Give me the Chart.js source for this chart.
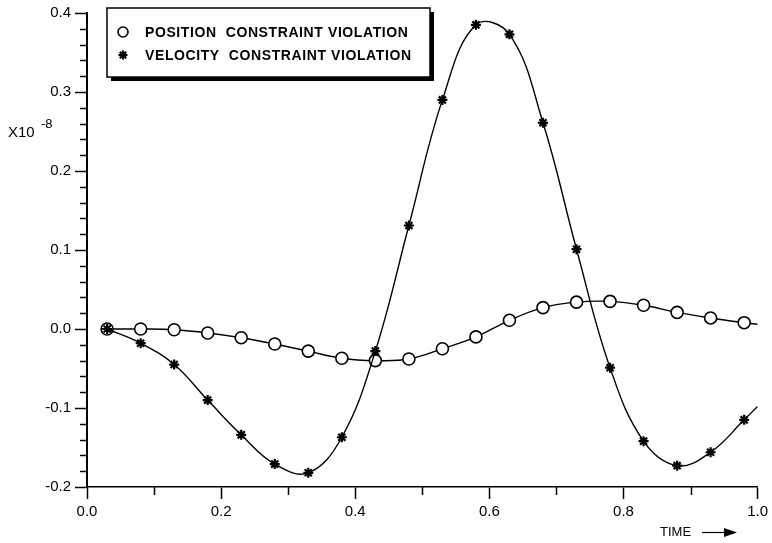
<!DOCTYPE html>
<html>
<head>
<meta charset="utf-8">
<script src="https://cdn.jsdelivr.net/npm/chart.js@4/dist/chart.umd.min.js"></script>
<style>
  html, body { margin: 0; padding: 0; background: #fff; }
  #wrap { width: 772px; height: 543px; }
</style>
</head>
<body>
<div id="wrap"><canvas id="chart" width="772" height="543"></canvas></div>
<script>
// Sample times (markers every 0.05) and the end of the curve
const timeMarks = [0.03, 0.08, 0.13, 0.18, 0.23, 0.28, 0.33, 0.38, 0.43, 0.48,
                   0.53, 0.58, 0.63, 0.68, 0.73, 0.78, 0.83, 0.88, 0.93, 0.98];
const timeEnd = 1.0;

// Values in units of 1e-8
const positionViolation = [0.000, 0.000, -0.001, -0.005, -0.011, -0.019, -0.028, -0.037, -0.040, -0.038,
                           -0.025, -0.010, 0.011, 0.027, 0.034, 0.035, 0.030, 0.021, 0.014, 0.008];
const positionEnd = 0.006;
const velocityViolation = [0.000, -0.018, -0.045, -0.090, -0.134, -0.171, -0.182, -0.137, -0.028, 0.131,
                           0.290, 0.385, 0.373, 0.261, 0.101, -0.049, -0.142, -0.173, -0.156, -0.115];
const velocityEnd = -0.098;

const xTickValues = [0.0, 0.2, 0.4, 0.6, 0.8, 1.0];
const xMinorTicks = [0.1, 0.3, 0.5, 0.7, 0.9];
const yTickValues = [-0.2, -0.1, 0.0, 0.1, 0.2, 0.3, 0.4];
const yMinorTicks = [-0.18, -0.16, -0.14, -0.12, -0.08, -0.06, -0.04, -0.02,
                     0.02, 0.04, 0.06, 0.08, 0.12, 0.14, 0.16, 0.18,
                     0.22, 0.24, 0.26, 0.28, 0.32, 0.34, 0.36, 0.38];

const FONT = '"Liberation Sans", Arial, sans-serif';

// Build {x, y} points, last one is the unmarked curve end
function toPoints(values, endValue) {
    const pts = values.map((v, i) => ({ x: timeMarks[i], y: v }));
    pts.push({ x: timeEnd, y: endValue });
    return pts;
}

function hideLast(ctx, r) {
    return ctx.dataIndex === timeMarks.length ? 0 : r;
}

// Draws minor ticks, legend box, axis captions
const decorations = {
    id: 'decorations',
    afterDraw(chart) {
        const ctx = chart.ctx;
        const xs = chart.scales.x;
        const ys = chart.scales.y;
        const area = chart.chartArea;

        ctx.save();
        ctx.strokeStyle = '#000';
        ctx.lineWidth = 1.5;

        // minor ticks
        yMinorTicks.forEach(v => {
            const py = Math.round(ys.getPixelForValue(v)) + 0.5;
            ctx.beginPath();
            ctx.moveTo(area.left - 7, py);
            ctx.lineTo(area.left, py);
            ctx.stroke();
        });
        xMinorTicks.forEach(v => {
            const px = Math.round(xs.getPixelForValue(v)) + 0.5;
            ctx.beginPath();
            ctx.moveTo(px, area.bottom);
            ctx.lineTo(px, area.bottom + 8);
            ctx.stroke();
        });

        // legend box with drop shadow
        const bx = 107, by = 8, bw = 323, bh = 69;
        ctx.fillStyle = '#000';
        ctx.fillRect(bx + 4, by + 4, bw, bh);
        ctx.fillStyle = '#fff';
        ctx.fillRect(bx, by, bw, bh);
        ctx.lineWidth = 1.5;
        ctx.strokeRect(bx, by, bw, bh);

        const rows = [32, 55];
        chart.data.datasets.forEach((ds, i) => {
            const ry = rows[i];
            const mx = 123;
            ctx.lineWidth = ds.pointBorderWidth;
            ctx.strokeStyle = '#000';
            if (ds.pointStyle === 'circle') {
                ctx.beginPath();
                ctx.arc(mx, ry, 5, 0, Math.PI * 2);
                ctx.fillStyle = '#fff';
                ctx.fill();
                ctx.stroke();
            } else {
                const r = 4.5;
                for (let k = 0; k < 4; k++) {
                    const a = k * Math.PI / 4;
                    ctx.beginPath();
                    ctx.moveTo(mx - r * Math.cos(a), ry - r * Math.sin(a));
                    ctx.lineTo(mx + r * Math.cos(a), ry + r * Math.sin(a));
                    ctx.stroke();
                }
            }
            ctx.fillStyle = '#000';
            ctx.font = 'bold 14px ' + FONT;
            ctx.letterSpacing = '0.6px';
            ctx.textAlign = 'left';
            ctx.textBaseline = 'middle';
            ctx.fillText(ds.label, 145, ry + 1);
        });
        ctx.letterSpacing = '0px';

        // y caption X10^-8
        ctx.fillStyle = '#000';
        ctx.textBaseline = 'alphabetic';
        ctx.font = '15px ' + FONT;
        ctx.fillText('X10', 8, 137);
        ctx.font = '13px ' + FONT;
        ctx.fillText('-8', 41, 128);

        // TIME with arrow
        ctx.font = '13px ' + FONT;
        ctx.textBaseline = 'middle';
        ctx.fillText('TIME', 660, 532);
        ctx.lineWidth = 1.2;
        ctx.beginPath();
        ctx.moveTo(702, 532.5);
        ctx.lineTo(728, 532.5);
        ctx.stroke();
        ctx.fillStyle = '#000';
        ctx.beginPath();
        ctx.moveTo(737, 532.5);
        ctx.lineTo(724, 528);
        ctx.lineTo(724, 537);
        ctx.closePath();
        ctx.fill();

        ctx.restore();
    }
};

new Chart(document.getElementById('chart'), {
    type: 'line',
    data: {
        datasets: [{
            label: 'POSITION  CONSTRAINT VIOLATION',
            data: toPoints(positionViolation, positionEnd),
            borderColor: '#000',
            borderWidth: 1.4,
            tension: 0.4,
            pointStyle: 'circle',
            pointRadius: ctx => hideLast(ctx, 6),
            pointBackgroundColor: '#fff',
            pointBorderColor: '#000',
            pointBorderWidth: 1.6,
            order: 2
        }, {
            label: 'VELOCITY  CONSTRAINT VIOLATION',
            data: toPoints(velocityViolation, velocityEnd),
            borderColor: '#000',
            borderWidth: 1.4,
            tension: 0.4,
            pointStyle: 'star',
            pointRadius: ctx => hideLast(ctx, 5),
            pointBackgroundColor: '#000',
            pointBorderColor: '#000',
            pointBorderWidth: 2.2,
            order: 1
        }]
    },
    options: {
        responsive: false,
        animation: false,
        devicePixelRatio: 1,
        layout: { padding: { top: 11, right: 10, left: 0, bottom: 0 } },
        plugins: {
            legend: { display: false },
            tooltip: { enabled: false }
        },
        scales: {
            x: {
                type: 'linear',
                min: 0,
                max: 1,
                afterFit: s => { s.height = 56; },
                afterBuildTicks: s => { s.ticks = xTickValues.map(v => ({ value: v })); },
                border: { display: true, color: '#000', width: 1.5 },
                grid: {
                    drawOnChartArea: false,
                    drawTicks: true,
                    tickLength: 12,
                    tickColor: '#000',
                    tickWidth: 1.5
                },
                ticks: {
                    autoSkip: false,
                    maxRotation: 0,
                    padding: 4,
                    color: '#000',
                    font: { family: FONT, size: 15 },
                    callback: v => Number(v).toFixed(1)
                }
            },
            y: {
                type: 'linear',
                min: -0.2,
                max: 0.4,
                afterFit: s => { s.width = 87; },
                afterBuildTicks: s => { s.ticks = yTickValues.map(v => ({ value: v })); },
                border: { display: true, color: '#000', width: 2 },
                grid: {
                    drawOnChartArea: false,
                    drawTicks: true,
                    tickLength: 12,
                    tickColor: '#000',
                    tickWidth: 1.5
                },
                ticks: {
                    autoSkip: false,
                    padding: 4,
                    color: '#000',
                    font: { family: FONT, size: 15 },
                    callback: v => Number(v).toFixed(1)
                }
            }
        }
    },
    plugins: [decorations]
});
</script>
</body>
</html>
